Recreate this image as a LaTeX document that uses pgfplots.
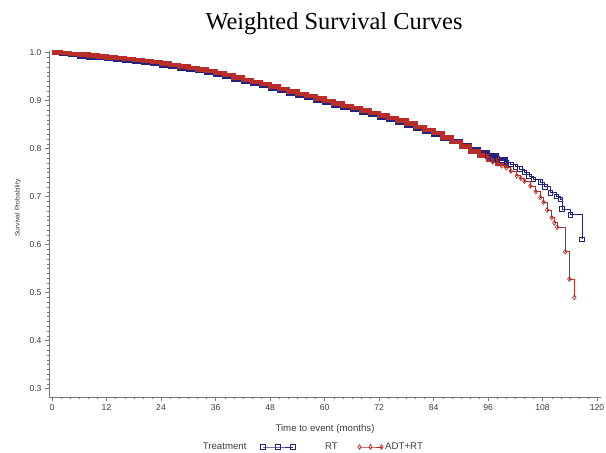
\documentclass[border=0pt]{standalone}
\usepackage{pgfplots}
\pgfplotsset{compat=1.18}
\usepackage{fontspec}
\setmainfont{Liberation Sans}
\newfontfamily\titlefont{Liberation Serif}
\definecolor{rtblue}{RGB}{35,35,125}
\definecolor{adtred}{RGB}{185,45,40}
\definecolor{axgray}{RGB}{120,120,120}
\definecolor{txtgray}{RGB}{60,60,60}
\pgfplotsset{
  rtlegend/.style={legend image code/.code={\draw[mark repeat=1,##1] plot coordinates {(0bp,0bp)(15bp,0bp)(30bp,0bp)};}},
  adtlegend/.style={legend image code/.code={\draw[mark repeat=1,##1] plot coordinates {(0bp,0bp)(11bp,0bp)(22bp,0bp)};}},
}

\begin{document}
\begin{tikzpicture}[x=1bp,y=1bp]
\path[use as bounding box] (0,0) rectangle (606,453);
\node[anchor=base, font=\titlefont\fontsize{24.5}{28}\selectfont] at (334,423.7) {Weighted Survival Curves};
\begin{axis}[
  at={(49bp,56bp)}, anchor=south west,
  scale only axis, width=552bp, height=346bp,
  xmin=-0.66, xmax=120.87, ymin=0.2823, ymax=1.0031,
  axis lines*=left, axis line style={axgray,-},
  tick style={axgray}, tick align=outside,
  major tick length=4bp, minor tick length=2bp,
  xtick={0,12,24,36,48,60,72,84,96,108,120},
  ytick={0.3,0.4,0.5,0.6,0.7,0.8,0.9,1.0},
  minor x tick num=5, minor y tick num=9,
  yticklabel style={/pgf/number format/.cd, fixed, fixed zerofill, precision=1},
  /pgf/number format/assume math mode=true,
  ticklabel style={font=\fontsize{8.6}{10}\selectfont, text=txtgray},
  xlabel={Time to event (months)},
  ylabel={Survival Probability},
  xlabel style={font=\fontsize{9.7}{11}\selectfont, text=txtgray,
    at={(axis description cs:0.5,0)}, anchor=base, yshift=-34.5bp},
  ylabel style={font=\fontsize{6.8}{8}\selectfont, text=txtgray,
    at={(axis description cs:0,0.546)}, anchor=base, yshift=29.5bp},
  legend columns=-1,
  legend style={draw=none, fill=none, at={(axis description cs:0.478,0)}, anchor=center, yshift=-50bp,
    font=\fontsize{9.7}{11}\selectfont, text=txtgray,
    /tikz/column 2/.style={column sep=12bp},
    /tikz/column 3/.style={column sep=28bp},
    /tikz/column 4/.style={column sep=18bp},
    /tikz/column 5/.style={column sep=0bp}},
]
\addlegendimage{empty legend}
\addlegendentry{Treatment}

% dense parts of the curves (many censor marks merge into a band)
\addplot[const plot, rtblue, line width=4.5bp, forget plot] coordinates {
(0,1.000)(2,0.997)(4,0.995)(6,0.992)(8,0.990)(10,0.988)(12,0.986)(14,0.984)(16,0.982)(18,0.980)
(20,0.978)(22,0.976)(24,0.973)(26,0.970)(28,0.967)(30,0.964)(32,0.961)(34,0.957)(36,0.953)(38,0.949)
(40,0.944)(42,0.939)(44,0.935)(46,0.930)(48,0.925)(50,0.920)(52,0.915)(54,0.910)(56,0.905)(58,0.900)
(60,0.895)(62,0.890)(64,0.885)(66,0.880)(68,0.875)(70,0.870)(72,0.865)(74,0.860)(76,0.854)(78,0.848)
(80,0.841)(82,0.835)(84,0.828)(86,0.821)(88,0.815)(90,0.807)(92,0.799)(94,0.792)(96,0.785)(98,0.778)(100,0.771)};
\addplot[const plot, adtred, line width=4.5bp, forget plot] coordinates {
(0,1.000)(2,0.999)(4,0.997)(6,0.996)(8,0.994)(10,0.992)(12,0.990)(14,0.988)(16,0.986)(18,0.984)
(20,0.982)(22,0.980)(24,0.977)(26,0.974)(28,0.971)(30,0.968)(32,0.965)(34,0.961)(36,0.957)(38,0.953)
(40,0.948)(42,0.943)(44,0.939)(46,0.934)(48,0.929)(50,0.924)(52,0.919)(54,0.914)(56,0.909)(58,0.904)
(60,0.899)(62,0.894)(64,0.889)(66,0.884)(68,0.879)(70,0.874)(72,0.869)(74,0.864)(76,0.858)(78,0.852)
(80,0.845)(82,0.839)(84,0.832)(86,0.823)(88,0.814)(90,0.804)(92,0.794)(94,0.785)(96,0.777)(98,0.768)(100,0.760)};

% tails with censor marks
\addplot[const plot, rtblue, line width=0.8bp, mark=square, mark size=2.3bp, mark options={solid, line width=0.7bp}, rtlegend] coordinates {
(96,0.785)(97,0.781)(98,0.778)(99,0.775)(100,0.771)(101,0.767)(102,0.762)(103,0.757)(104,0.750)
(105,0.742)(106,0.736)(107.5,0.730)(108.5,0.720)(109.7,0.708)(111,0.700)(111.9,0.694)(112.3,0.674)
(114.1,0.662)(116.7,0.611)};
\addlegendentry{RT}
\addplot[const plot, adtred, line width=0.8bp, mark=diamond, mark size=2.3bp, mark options={solid, line width=0.7bp}, adtlegend] coordinates {
(96,0.777)(97,0.772)(98,0.768)(99,0.764)(100,0.760)(101,0.753)(102.3,0.743)(103.2,0.738)(104,0.732)
(105.3,0.722)(106.5,0.710)(107.5,0.698)(108.2,0.688)(109,0.672)(110,0.656)(110.6,0.645)(111.2,0.636)
(113,0.585)(113.9,0.528)(115,0.490)};
\addlegendentry{ADT+RT}
\end{axis}
\end{tikzpicture}
\end{document}
